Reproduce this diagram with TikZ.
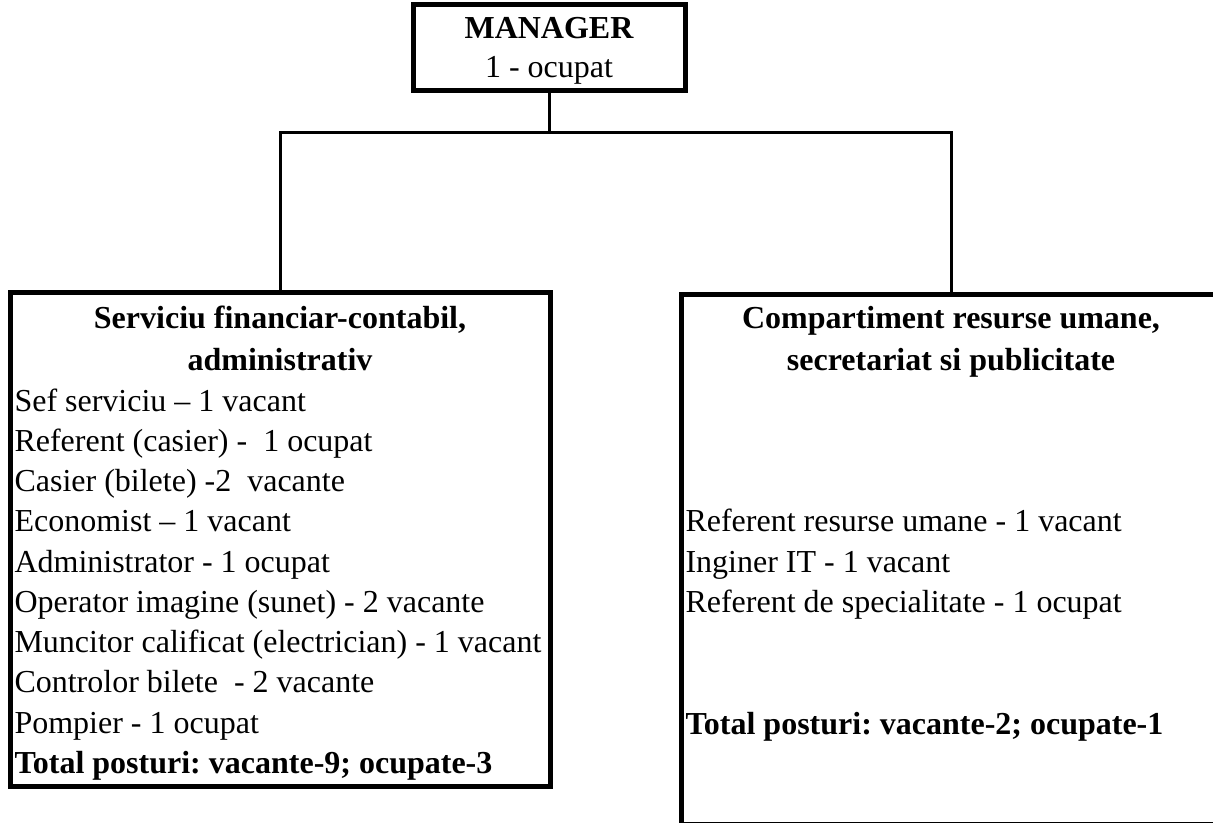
\documentclass[tikz,border=0pt]{standalone}
\usepackage{fontspec}
\setmainfont{Liberation Serif}
\usepackage{tikz}
\tikzset{every picture/.style={line width=0.75pt}}
\tikzset{
  unitbox/.style={draw, line width=3.75pt, inner sep=0pt},
  link/.style={line width=2.25pt},
  item/.style={anchor=base west, inner sep=0pt},
  head/.style={anchor=base, inner sep=0pt, font=\bfseries},
}
\frenchspacing

\begin{document}
\fontsize{24pt}{30pt}\selectfont
\begin{tikzpicture}[x=0.75pt,y=0.75pt,yscale=-1,xscale=1]
%set diagram frame: 1213 x 823
\clip (0,0) rectangle (1213,823);

%Boxes
\node[unitbox, minimum width=204pt, minimum height=64.5pt] (mgr) at (549,48) {};
\node[unitbox, minimum width=405pt, minimum height=369.75pt] (fin) at (280,539.5) {};
\node[unitbox, minimum width=405pt, minimum height=397.5pt] (hr) at (951,559.5) {};

%Connectors
\coordinate (bus) at (550,133);
\draw[link] (mgr.south) -- (mgr.south |- bus);
\draw[link] (fin.north) -- (fin.north |- bus) -- (hr.north |- bus) -- (hr.north);

% Text Node
\node[head] (mgrA) at (549,39) {MANAGER};
% Text Node
\node[anchor=base, inner sep=0pt] (mgrB) at (549,78) {1 - ocupat};

% Text Node
\node[head] (finA) at (280,329) {Serviciu financiar-contabil,};
\node[head] (finB) at (280,370) {administrativ};
% Text Node
\node[item] (fin1) at (14,411) {Sef serviciu -- 1 vacant};
\node[item] (fin2) at (14,451) {Referent (casier) - \ 1 ocupat};
\node[item] (fin3) at (14,491) {Casier (bilete) -2 \ vacante};
\node[item] (fin4) at (14,531) {Economist -- 1 vacant};
\node[item] (fin5) at (14,572) {Administrator - 1 ocupat};
\node[item] (fin6) at (14,612) {Operator imagine (sunet) - 2 vacante};
\node[item] (fin7) at (14,652) {Muncitor calificat (electrician) - 1 vacant};
\node[item] (fin8) at (14,692) {Controlor bilete \ - 2 vacante};
\node[item] (fin9) at (14,733) {Pompier - 1 ocupat};
\node[item, font=\bfseries] (finT) at (14,773) {Total posturi: vacante-9; ocupate-3};

% Text Node
\node[head] (hrA) at (951,329) {Compartiment resurse umane,};
\node[head] (hrB) at (951,370) {secretariat si publicitate};
% Text Node
\node[item] (hr1) at (685,531) {Referent resurse umane - 1 vacant};
\node[item] (hr2) at (685,572) {Inginer IT - 1 vacant};
\node[item] (hr3) at (685,612) {Referent de specialitate - 1 ocupat};
\node[item, font=\bfseries] (hrT) at (685,734) {Total posturi: vacante-2; ocupate-1};
\end{tikzpicture}
\end{document}
